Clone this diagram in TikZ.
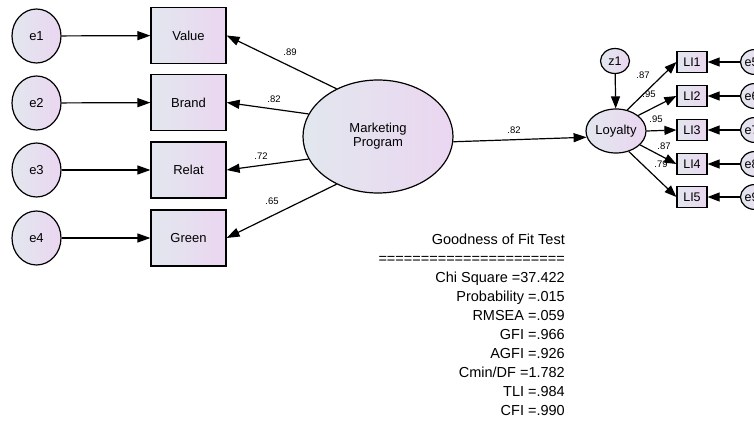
\documentclass[tikz,border=0pt]{standalone}
\usepackage{fontspec}
\setmainfont{Liberation Sans}
\usetikzlibrary{shapes.geometric,arrows.meta}
\definecolor{shadeL}{HTML}{E2E7EE}
\definecolor{shadeR}{HTML}{EBD6F1}
\begin{document}
\begin{tikzpicture}[x=1pt,y=-1pt,
  grad/.style={left color=shadeL,right color=shadeR},
  lbl/.style={font=\fontsize{13}{15}\selectfont},
  errv/.style={ellipse,draw,line width=1.2pt,grad,lbl,inner sep=0pt,
               minimum width=49pt,minimum height=54pt},
  obsv/.style={rectangle,draw,line width=1.2pt,grad,lbl,inner sep=0pt,
               minimum width=75pt,minimum height=56pt},
  latv/.style={ellipse,draw,line width=1.2pt,grad,lbl,inner sep=0pt,align=center,
               minimum width=150pt,minimum height=113pt},
  smallobs/.style={rectangle,draw,line width=1.2pt,grad,inner sep=0pt,
               font=\fontsize{12.5}{14}\selectfont,minimum width=30pt,minimum height=21pt},
  smallerr/.style={ellipse,draw,line width=1.2pt,grad,inner sep=0pt,
               font=\fontsize{12.5}{14}\selectfont,minimum width=29pt,minimum height=25pt},
  path/.style={line width=1.2pt,-{Triangle[length=13pt,width=9pt]}},
  spath/.style={line width=1.2pt,-{Triangle[length=12pt,width=9pt]}},
  coef/.style={font=\fontsize{9.5}{11}\selectfont,inner sep=0pt},
  fitline/.style={font=\fontsize{14.5}{17}\selectfont,inner sep=0pt,anchor=base east}
]
\path[use as bounding box] (0,0) rectangle (754,422);
\clip (0,0) rectangle (754,422);
\fill[white] (0,0) rectangle (754,422);

% exogenous indicators of Marketing Program
\node[errv] (e1) at (36.5,36) {e1};
\node[errv] (e2) at (36.5,103) {e2};
\node[errv] (e3) at (36.5,170) {e3};
\node[errv] (e4) at (36.5,238) {e4};
\node[obsv] (value) at (188.5,35.5) {Value};
\node[obsv] (brand) at (188.5,102.5) {Brand};
\node[obsv] (relat) at (188.5,170) {Relat};
\node[obsv] (green) at (188.5,238) {Green};
\foreach \a/\b in {e1/value,e2/brand,e3/relat,e4/green}
  \draw[path] (\a) -- (\b);

% latent construct
\node[latv] (mp) at (378,136.5) {Marketing\\[-1pt]Program};
\draw[path] (mp.131) -- (value.east);
\draw[path] (mp.162) -- (brand.east);
\draw[path] (mp.198) -- (relat.east);
\draw[path] (mp.229) -- (green.east);
\node[coef] (c1) at (290,52) {.89};
\node[coef] (c2) at (274,99) {.82};
\node[coef] (c3) at (261,156) {.72};
\node[coef] (c4) at (272,201) {.65};

% Loyalty and its items
\node[smallerr] (z1) at (615,61) {z1};
\node[ellipse,draw,line width=1.2pt,grad,lbl,inner sep=0pt,
      minimum width=60pt,minimum height=44pt] (loy) at (616,131) {Loyalty};
\draw[path] (mp.-4) -- (loy.192);
\node[coef] (c5) at (514,130) {.82};
\draw[spath] (z1) -- (loy);

\foreach \i/\y/\e in {1/62/e5,2/96/e6,3/130/e7,4/164/e8,5/197/e9}{
  \node[smallobs] (li\i) at (692,\y) {LI\i};
  \node[smallerr] (r\i) at (755,\y) {};
  \node[font=\fontsize{12.5}{14}\selectfont,inner sep=0pt,anchor=west] (t\i) at (744.5,\y) {\e};
  \draw[spath] (r\i) -- (li\i);
}
\draw[spath] (loy.62) -- (li1.west);
\draw[spath] (loy.35) -- (li2.west);
\draw[spath] (loy.east) -- (li3.west);
\draw[spath] (loy.-30) -- (li4.west);
\draw[spath] (loy.-58) -- (li5.west);
\node[coef] (c6) at (643,75) {.87};
\node[coef] (c7) at (649,94) {.95};
\node[coef] (c8) at (656,119) {.95};
\node[coef] (c9) at (664,146) {.87};
\node[coef] (c10) at (661,164) {.79};

% fit statistics
\foreach \t [count=\k] in {Goodness of Fit Test,======================,
    Chi Square =37.422,Probability =.015,RMSEA =.059,GFI =.966,AGFI =.926,
    Cmin/DF =1.782,TLI =.984,CFI =.990}
  \node[fitline] (fit\k) at (565,{244.5+19*(\k-1)}) {\t};
\end{tikzpicture}
\end{document}
